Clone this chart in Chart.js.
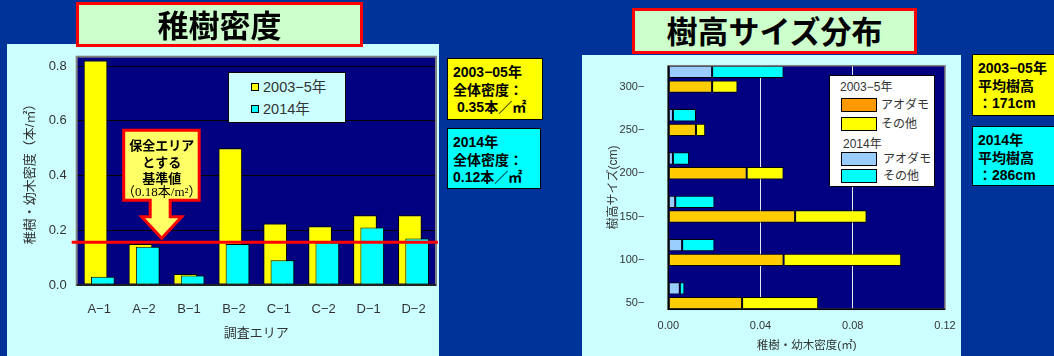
<!DOCTYPE html>
<html lang="ja">
<head>
<meta charset="utf-8">
<script src="https://cdn.jsdelivr.net/npm/chart.js@4.4.1/dist/chart.umd.min.js"></script>
<style>
  body { margin: 0; width: 1054px; height: 356px; background: #003399; position: relative; overflow: hidden;
         font-family: "Liberation Sans", "Noto Sans CJK JP", sans-serif; }
  .abs { position: absolute; }
  .panel { background: #CCFFFF; }
  .title { background: #CCFFCC; border: 3px solid #FF0000; box-sizing: border-box; text-align: center;
           font: bold 31px "Noto Sans CJK JP", sans-serif; color: #000; }
  .info { border: 1.5px solid #000; box-sizing: border-box; font: bold 14px "Liberation Sans", "Noto Sans CJK JP", sans-serif;
          line-height: 17.5px; padding: 5px 0 0 5px; color: #000; white-space: pre; }
  .sw { position: absolute; box-sizing: border-box; border: 1px solid #000; }
  .lt { position: absolute; color: #333; white-space: nowrap; }
</style>
</head>
<body>
<div class="abs panel" style="left:7px;top:44px;width:432px;height:312px"></div>
<div class="abs panel" style="left:582px;top:55px;width:379px;height:301px"></div>
<canvas id="densityChart" class="abs" width="432" height="312" style="left:7px;top:44px"></canvas>
<canvas id="sizeChart" class="abs" width="379" height="301" style="left:582px;top:55px"></canvas>

<div class="abs title" style="left:76px;top:2px;width:287px;height:45px;line-height:37px">稚樹密度</div>
<div class="abs title" style="left:632px;top:8px;width:285px;height:46px;line-height:38px">樹高サイズ分布</div>

<div class="abs info" style="left:447px;top:58px;width:96px;height:62px;background:#FFFF00">2003−05年
全体密度：
 0.35本／㎡</div>
<div class="abs info" style="left:447px;top:128px;width:94px;height:61px;background:#00FFFF">2014年
全体密度：
0.12本／㎡</div>
<div class="abs info" style="left:972px;top:54px;width:100px;height:62px;background:#FFFF00">2003−05年
平均樹高
：171cm</div>
<div class="abs info" style="left:972px;top:126px;width:100px;height:60px;background:#00FFFF">2014年
平均樹高
：286cm</div>

<div id="legendL" class="abs" style="left:228px;top:72px;width:118px;height:51px;background:#CCFFFF;border:1px solid #000;box-sizing:border-box"></div>
<div id="legendR" class="abs" style="left:829px;top:75px;width:106px;height:112px;background:#FFFFFF;border:1px solid #000;box-sizing:border-box"></div>

<script>
// 稚樹密度 (本/㎡)
const areas = ['A−1', 'A−2', 'B−1', 'B−2', 'C−1', 'C−2', 'D−1', 'D−2'];
const density2003 = [0.82, 0.15, 0.04, 0.50, 0.225, 0.215, 0.255, 0.255];
const density2014 = [0.03, 0.14, 0.035, 0.15, 0.09, 0.155, 0.21, 0.17];
const densityTicks = [0, 0.2, 0.4, 0.6, 0.8];
const densityNames = ['2003−5年', '2014年'];
const densityColors = ['#FFFF00', '#00FFFF'];
const baselineValue = 0.156;
const baselineNote = ['保全エリア', 'とする', '基準値', '（0.18本/m²）'];

// 樹高サイズ分布 (密度)
const sizeClasses = [50, 100, 150, 200, 250, 300];
const sizeLabels = ['50−', '100−', '150−', '200−', '250−', '300−'];
const aodamo2003 = [0.032, 0.050, 0.055, 0.034, 0.012, 0.019];
const other2003 = [0.033, 0.051, 0.031, 0.016, 0.004, 0.011];
const aodamo2014 = [0.005, 0.006, 0.003, 0.002, 0.002, 0.019];
const other2014 = [0.002, 0.014, 0.017, 0.007, 0.010, 0.031];
const sizeTicks = [0, 0.04, 0.08, 0.12];
const sizeGroups = ['2003−5年', '2014年'];
const speciesNames = ['アオダモ', 'その他'];

Chart.defaults.font.family = '"Liberation Sans", "Noto Sans CJK JP", sans-serif';
Chart.defaults.color = '#333';

const navyBg = {
  id: 'navyBg',
  beforeDraw(chart) {
    const a = chart.chartArea, ctx = chart.ctx;
    ctx.save();
    ctx.fillStyle = '#000080';
    ctx.fillRect(a.left, a.top, a.width, a.height);
    ctx.restore();
  }
};

const densityOverlay = {
  id: 'densityOverlay',
  afterDatasetsDraw(chart) {
    const { ctx, chartArea: a } = chart;
    const y = chart.scales.y;
    ctx.save();
    // 2014 bars sit in front of the 2003 ones
    chart.getDatasetMeta(1).data.forEach(el => el.draw(ctx));
    ctx.strokeStyle = '#808080';
    ctx.lineWidth = 2;
    ctx.strokeRect(a.left, a.top, a.width, a.height);
    ctx.strokeStyle = '#000';
    ctx.lineWidth = 1.5;
    ctx.beginPath(); ctx.moveTo(a.left, a.bottom); ctx.lineTo(a.right, a.bottom); ctx.stroke();

    const by = y.getPixelForValue(baselineValue);
    const tx = a.left + 85, ty = by - 4;
    ctx.beginPath();
    ctx.moveTo(tx - 38, ty - 108); ctx.lineTo(tx + 37.5, ty - 108); ctx.lineTo(tx + 37.5, ty - 38);
    ctx.lineTo(tx + 8.5, ty - 38); ctx.lineTo(tx + 8.5, ty - 21.5); ctx.lineTo(tx + 20, ty - 21.5);
    ctx.lineTo(tx, ty); ctx.lineTo(tx - 20, ty - 21.5); ctx.lineTo(tx - 11.5, ty - 21.5);
    ctx.lineTo(tx - 11.5, ty - 38); ctx.lineTo(tx - 38, ty - 38); ctx.closePath();
    ctx.fillStyle = '#FFFF66';
    ctx.fill();
    ctx.strokeStyle = '#FF0000';
    ctx.lineWidth = 3;
    ctx.stroke();

    ctx.fillStyle = '#000';
    ctx.textAlign = 'center';
    ctx.textBaseline = 'middle';
    const rows = [15, 31.7, 47.3, 62.7];
    baselineNote.forEach((t, i) => {
      ctx.font = i < 3 ? 'bold 13px "Noto Sans CJK JP", sans-serif' : '13px "Liberation Serif", "Noto Sans CJK JP", serif';
      ctx.fillText(t, tx, ty - 108 + rows[i]);
    });

    ctx.strokeStyle = '#FF0000';
    ctx.lineWidth = 3;
    ctx.beginPath(); ctx.moveTo(a.left - 5, by); ctx.lineTo(a.right + 2, by); ctx.stroke();
    ctx.restore();
  }
};

new Chart(document.getElementById('densityChart'), {
  type: 'bar',
  data: {
    labels: areas,
    datasets: [
      { label: densityNames[0], data: density2003, backgroundColor: densityColors[0] },
      { label: densityNames[1], data: density2014, backgroundColor: densityColors[1] }
    ]
  },
  options: {
    responsive: false,
    animation: false,
    devicePixelRatio: 1,
    datasets: { bar: { categoryPercentage: 0.323, barPercentage: 3.27, borderColor: '#000', borderWidth: 1, borderSkipped: false } },
    layout: { padding: { left: 0, top: 12.7, right: 3, bottom: 0 } },
    plugins: { legend: { display: false }, tooltip: { enabled: false } },
    scales: {
      x: {
        grid: { display: false },
        border: { display: false },
        ticks: { font: { size: 13 }, padding: 9, maxRotation: 0, autoSkip: false },
        title: { display: true, text: '調査エリア', font: { size: 13, lineHeight: 1 }, padding: { top: 0, bottom: 16.5 } },
        afterFit(s) { s.height = 71; s.paddingLeft = 0; s.paddingRight = 0; }
      },
      y: {
        min: 0,
        max: 0.834,
        afterBuildTicks(s) { s.ticks = densityTicks.map(v => ({ value: v })); },
        grid: { color: '#000', lineWidth: 1, drawTicks: false },
        border: { display: false },
        ticks: { font: { size: 13 }, padding: 10, callback: v => v.toFixed(1) },
        title: { display: true, text: '稚樹・幼木密度（本/㎡）', font: { size: 13, lineHeight: 1 }, padding: { top: 16.5, bottom: 0 } },
        afterFit(s) { s.width = 69.7; s.paddingTop = 0; s.paddingBottom = 0; }
      }
    }
  },
  plugins: [navyBg, densityOverlay]
});

const sizeFrame = {
  id: 'sizeFrame',
  afterDatasetsDraw(chart) {
    const { ctx, chartArea: a } = chart;
    ctx.save();
    ctx.strokeStyle = '#808080';
    ctx.lineWidth = 1.5;
    ctx.strokeRect(a.left, a.top, a.width, a.height);
    ctx.strokeStyle = '#000';
    ctx.beginPath(); ctx.moveTo(a.left, a.top); ctx.lineTo(a.left, a.bottom); ctx.lineTo(a.right, a.bottom); ctx.stroke();
    ctx.restore();
  }
};

const pts = vals => vals.map((v, i) => ({ x: v, y: sizeClasses[i] }));
const sizeSets = [
  { label: sizeGroups[1] + ' ' + speciesNames[0], stack: '2014', data: pts(aodamo2014), backgroundColor: '#99CCFF' },
  { label: sizeGroups[1] + ' ' + speciesNames[1], stack: '2014', data: pts(other2014), backgroundColor: '#00FFFF' },
  { label: sizeGroups[0] + ' ' + speciesNames[0], stack: '2003', data: pts(aodamo2003), backgroundColor: '#FFCC00' },
  { label: sizeGroups[0] + ' ' + speciesNames[1], stack: '2003', data: pts(other2003), backgroundColor: '#FFFF00' }
];

new Chart(document.getElementById('sizeChart'), {
  type: 'bar',
  data: { datasets: sizeSets },
  options: {
    indexAxis: 'y',
    responsive: false,
    animation: false,
    devicePixelRatio: 1,
    datasets: { bar: { categoryPercentage: 0.679, barPercentage: 0.84, borderColor: '#000', borderWidth: 1, borderSkipped: false } },
    layout: { padding: { left: 0, top: 10.7, right: 16, bottom: 0 } },
    plugins: { legend: { display: false }, tooltip: { enabled: false } },
    scales: {
      x: {
        type: 'linear',
        stacked: true,
        min: 0,
        max: 0.12,
        afterBuildTicks(s) { s.ticks = sizeTicks.map(v => ({ value: v })); },
        grid: { color: c => (c.tick && c.tick.value > 0) ? '#E8E8E8' : 'rgba(0,0,0,0)', lineWidth: 1, drawTicks: false },
        border: { display: false },
        ticks: { font: { size: 11 }, padding: 10, callback: v => v.toFixed(2) },
        title: { display: true, text: '稚樹・幼木密度(㎡)', font: { size: 11.5, lineHeight: 1 }, padding: { top: 0, bottom: 4 } },
        afterFit(s) { s.height = 46.7; s.paddingLeft = 0; s.paddingRight = 0; }
      },
      y: {
        type: 'linear',
        min: 34.4,
        max: 315.7,
        offset: false,
        afterBuildTicks(s) { s.ticks = sizeClasses.map(v => ({ value: v })); },
        grid: { display: false, offset: false },
        border: { display: false },
        ticks: { font: { size: 11 }, padding: 16, labelOffset: 7.35, callback: v => sizeLabels[sizeClasses.indexOf(v)] },
        title: { display: true, text: '樹高サイズ(cm)', font: { size: 12, lineHeight: 1 }, padding: { top: 26, bottom: 0 } },
        afterFit(s) { s.width = 86.3; s.paddingTop = 0; s.paddingBottom = 0; }
      }
    }
  },
  plugins: [navyBg, sizeFrame]
});

// legends
function addItem(box, text, style) {
  const d = document.createElement('div');
  d.className = text === null ? 'sw' : 'lt';
  d.setAttribute('style', style);
  if (text !== null) d.textContent = text;
  box.appendChild(d);
}
const lgL = document.getElementById('legendL');
densityNames.forEach((n, i) => {
  const cy = [14, 36.3][i];
  addItem(lgL, null, `left:22px;top:${cy - 4}px;width:8px;height:8px;background:${densityColors[i]}`);
  addItem(lgL, n, `left:34px;top:${cy - 8}px;font-size:14.5px;line-height:16px`);
});
const lgR = document.getElementById('legendR');
const legendRows = [
  { head: sizeGroups[0], headY: 10.7, headX: 10, items: [['#FF9900', 21.7], ['#FFFF00', 40.7]], lx: 51 },
  { head: sizeGroups[1], headY: 67.7, headX: 13, items: [['#99CCFF', 75.7], ['#00FFFF', 93.3]], lx: 53 }
];
legendRows.forEach(r => {
  addItem(lgR, r.head, `left:${r.headX}px;top:${r.headY - 7}px;font-size:12px;line-height:14px`);
  r.items.forEach(([col, top], j) => {
    addItem(lgR, null, `left:11px;top:${top}px;width:36px;height:14px;background:${col}`);
    addItem(lgR, speciesNames[j], `left:${r.lx}px;top:${top}px;font-size:12px;line-height:14px`);
  });
});
</script>
</body>
</html>
